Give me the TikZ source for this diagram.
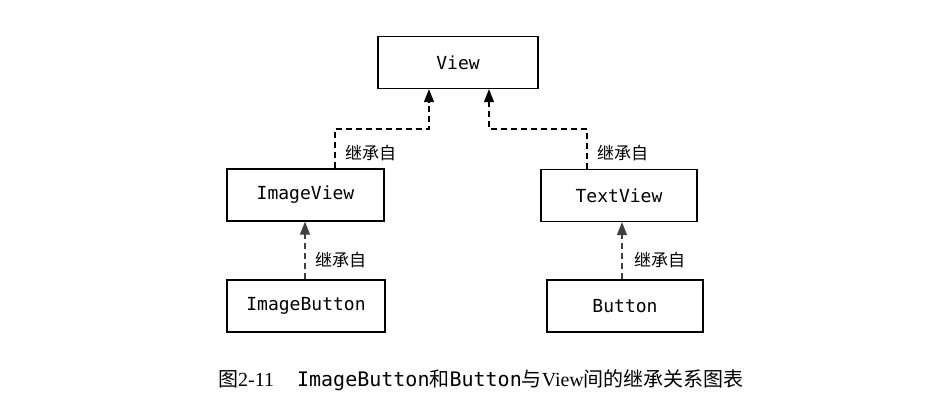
\documentclass[tikz,border=0pt]{standalone}
\usepackage{fontspec}
\setmainfont{Liberation Serif}
\setmonofont{DejaVu Sans Mono}
\newfontfamily\cjk{Noto Sans CJK SC}
\usetikzlibrary{arrows.meta}
\begin{document}
\begin{tikzpicture}[x=1pt,y=-1pt,
  cls/.style={draw,line width=1.3pt,minimum height=52pt,inner sep=0pt,font=\ttfamily\fontsize{18}{18}\selectfont},
  inh/.style={line width=1.4pt,dash pattern=on 6pt off 4pt,-{Triangle[width=10pt,length=13pt]}},
  inhb/.style={inh,draw=black!75},
  lbl/.style={font=\cjk\fontsize{17}{17}\selectfont,inner sep=0pt}]
\useasboundingbox (0,0) rectangle (930,409);
\node[cls,minimum width=160pt] (view) at (458,62.5) {View};
\node[cls,minimum width=157pt] (iview) at (305.5,195) {ImageView};
\node[cls,minimum width=156pt] (tview) at (619,195.5) {TextView};
\node[cls,minimum width=158pt] (ibtn) at (306,306) {ImageButton};
\node[cls,minimum width=156pt] (btn) at (625,306) {Button};
\coordinate (l1) at (335,129);
\coordinate (l2) at (429,129);
\coordinate (r1) at (587,129);
\coordinate (r2) at (489,129);
\draw[inh] (iview.north -| l1) -- (l1) -- (l2) -- (l2 |- view.south);
\draw[inh] (tview.north -| r1) -- (r1) -- (r2) -- (r2 |- view.south);
\draw[inhb] (ibtn.north -| 305,0) -- (iview.south -| 305,0);
\draw[inhb] (btn.north -| 622,0) -- (tview.south -| 622,0);
\node[lbl,anchor=west] (t1) at (345,153) {继承自};
\node[lbl,anchor=west] (t2) at (597,153) {继承自};
\node[lbl,anchor=west] (t3) at (315,260) {继承自};
\node[lbl,anchor=west] (t4) at (634,260) {继承自};
\node[anchor=west,inner sep=0pt,font=\fontsize{20}{20}\selectfont] (cap) at (218,380)
  {{\cjk 图}2-11\hspace{23pt}{\ttfamily ImageButton}{\cjk 和}{\ttfamily Button}{\cjk 与}View{\cjk 间的继承关系图表}};
\end{tikzpicture}
\end{document}
